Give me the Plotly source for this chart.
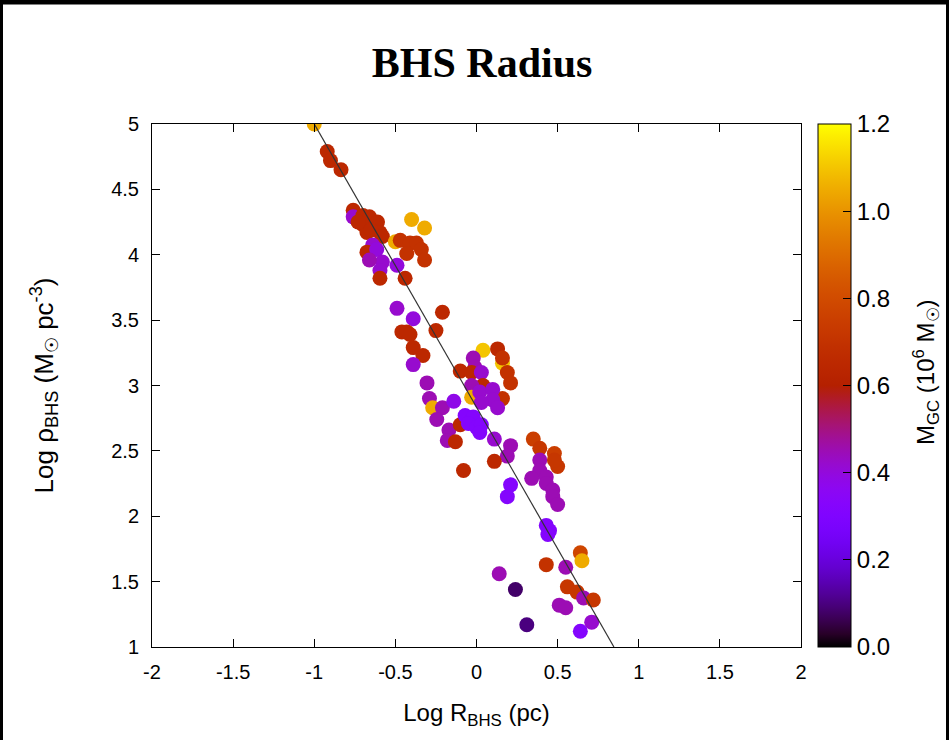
import numpy as np
import plotly.graph_objects as go

# ---- data ----
log_r = [-1.00, -0.92, -0.90, -0.835,
         -0.76, -0.76, -0.70, -0.66, -0.61, -0.70, -0.675, -0.595, -0.58, -0.64, -0.675, -0.615,
         -0.58, -0.66, -0.595, -0.595, -0.49, -0.44, -0.40, -0.32, -0.50, -0.47, -0.41, -0.37,
         -0.43, -0.34, -0.32, -0.73, -0.65,
         -0.49, -0.39, -0.21, -0.46, -0.43, -0.41, -0.25, -0.39, -0.33, -0.39, -0.305, -0.29,
         -0.27, -0.21, -0.245, -0.14, -0.17, -0.18, -0.13, -0.08, -0.10,
         0.04, 0.13, 0.16, 0.16, 0.19, 0.21, 0.16, -0.02, -0.01, -0.10, -0.03, 0.03, 0.04,
         -0.03, -0.03, 0.02, 0.10, 0.10, 0.03, 0.13, -0.07, -0.02, -0.05, 0.00, 0.03, 0.02,
         0.11, 0.21, 0.19, 0.11, 0.21, 0.19,
         0.35, 0.39, 0.48, 0.50, 0.48, 0.39, 0.39, 0.34, 0.43, 0.43, 0.47, 0.47, 0.50,
         0.43, 0.45, 0.44, 0.64, 0.65, 0.43, 0.55, 0.14, 0.24, 0.56, 0.62, 0.66, 0.72,
         0.51, 0.55, 0.71, 0.64, 0.31]
log_rho = [5.00, 4.79, 4.72, 4.65,
           4.34, 4.29, 4.30, 4.29, 4.25, 4.23, 4.17, 4.17, 4.14, 4.075, 4.02, 4.04,
           3.945, 3.96, 3.88, 3.82, 3.92, 3.82, 4.27, 4.205, 4.10, 4.11, 4.09, 4.09,
           4.01, 4.04, 3.96, 4.25, 4.19,
           3.59, 3.51, 3.56, 3.41, 3.41, 3.39, 3.42, 3.29, 3.23, 3.16, 3.02, 2.90,
           2.83, 2.83, 2.74, 2.88, 2.66, 2.58, 2.57, 2.35, 2.70,
           3.27, 3.28, 3.17, 3.21, 3.10, 3.02, 2.90, 3.21, 3.14, 3.11, 3.10, 3.10, 3.00,
           3.00, 2.91, 2.95, 2.97, 2.89, 2.87, 2.83, 2.77, 2.76, 2.71, 2.68, 2.70, 2.64,
           2.59, 2.54, 2.46, 2.42, 2.24, 2.15,
           2.59, 2.52, 2.48, 2.38, 2.43, 2.43, 2.35, 2.29, 2.30, 2.25, 2.20, 2.15, 2.09,
           1.93, 1.89, 1.86, 1.72, 1.66, 1.63, 1.61, 1.56, 1.44, 1.46, 1.42, 1.375, 1.36,
           1.32, 1.30, 1.19, 1.12, 1.17]
m_gc = [1.05, 0.65, 0.65, 0.65,
        0.65, 0.42, 0.65, 0.65, 0.65, 0.65, 0.65, 0.65, 0.65, 0.42, 0.65, 0.40,
        0.42, 0.45, 0.42, 0.65, 0.40, 0.65, 1.05, 1.05, 1.05, 0.70, 0.70, 0.70,
        0.70, 0.70, 0.70, 0.65, 0.65,
        0.42, 0.40, 0.65, 0.65, 0.65, 0.65, 0.65, 0.65, 0.65, 0.42, 0.45, 0.45,
        1.05, 0.45, 0.45, 0.38, 0.45, 0.45, 0.65, 0.65, 0.65,
        1.10, 0.65, 1.10, 0.70, 0.70, 0.70, 0.70, 0.45, 0.45, 0.65, 0.65, 0.42, 0.65,
        0.45, 1.05, 0.42, 0.42, 0.42, 0.42, 0.42, 0.32, 0.32, 0.32, 0.32, 0.32, 0.32,
        0.42, 0.45, 0.45, 0.65, 0.32, 0.32,
        0.75, 0.72, 0.75, 0.72, 0.72, 0.45, 0.45, 0.45, 0.45, 0.45, 0.45, 0.45, 0.45,
        0.32, 0.32, 0.32, 0.78, 1.05, 0.70, 0.45, 0.45, 0.08, 0.72, 0.72, 0.45, 0.72,
        0.45, 0.45, 0.42, 0.32, 0.10]

fit_x = [-1.0, 0.847]
fit_y = [5.0, 1.0]

x_ticks = [-2, -1.5, -1, -0.5, 0, 0.5, 1, 1.5, 2]
y_ticks = [1, 1.5, 2, 2.5, 3, 3.5, 4, 4.5, 5]
cb_ticks = [0.0, 0.2, 0.4, 0.6, 0.8, 1.0, 1.2]

# gnuplot default palette (rgbformulae 7,5,15)
def gp_color(t):
    r = np.sqrt(t)
    g = t ** 3
    b = max(np.sin(2 * np.pi * t), 0.0)
    return "rgb(%d,%d,%d)" % (round(r * 255), round(g * 255), round(b * 255))

stops = np.linspace(0, 1, 41)
colorscale = [[float(s), gp_color(float(s))] for s in stops]

font = "Liberation Sans, Arial, sans-serif"

fig = go.Figure()
fig.add_trace(go.Scatter(
    x=log_r, y=log_rho, mode="markers",
    marker=dict(size=15, color=m_gc, colorscale=colorscale, cmin=0, cmax=1.2,
                line=dict(width=0), opacity=1,
                colorbar=dict(
                    x=1.026, xanchor="left", xpad=0, y=0.5, yanchor="middle", ypad=0,
                    len=1.0, lenmode="fraction",
                    thickness=33, outlinecolor="black", outlinewidth=1,
                    tickvals=cb_ticks, ticktext=["%.1f" % v for v in cb_ticks],
                    tickprefix=" ",
                    ticks="inside", ticklen=8, tickcolor="black",
                    tickfont=dict(family=font, size=24, color="black"),
                )),
    showlegend=False, hoverinfo="x+y",
))
fig.add_trace(go.Scatter(x=fit_x, y=fit_y, mode="lines",
                         line=dict(color="#333333", width=1.2), showlegend=False))

axis_common = dict(showline=True, linecolor="black", linewidth=1, mirror="ticks",
                   ticks="inside", ticklen=8, tickcolor="black", showgrid=False, zeroline=False,
                   tickfont=dict(family=font, size=20, color="black"))
fig.update_xaxes(range=[-2, 2], tickvals=x_ticks, ticktext=[("%g" % v) for v in x_ticks],
                 ticklabelstandoff=7,
                 title=dict(text="Log R<sub>BHS</sub> (pc)", font=dict(family=font, size=24, color="black"),
                            standoff=22),
                 **axis_common)
fig.update_yaxes(range=[1, 5], tickvals=y_ticks, ticktext=[("%g" % v) for v in y_ticks],
                 ticklabelstandoff=8,
                 title=dict(text="Log ρ<sub>BHS</sub> (M<sub>☉</sub> pc<sup>-3</sup>)",
                            font=dict(family=font, size=26, color="black"), standoff=50),
                 **axis_common)

fig.update_layout(
    width=949, height=740,
    margin=dict(l=152, r=148, t=124, b=93, autoexpand=False),
    paper_bgcolor="white", plot_bgcolor="white",
    title=dict(text="<b>BHS Radius</b>", x=0.508, xanchor="center", y=0.916, yanchor="middle",
               font=dict(family="Liberation Serif, Times New Roman, serif", size=42, color="black")),
    annotations=[dict(text="M<sub>GC</sub> (10<sup>6</sup> M<sub>☉</sub>)", textangle=-90,
                      xref="paper", yref="paper", x=(926 - 152) / 649, y=(647 - 372) / 523,
                      xanchor="center", yanchor="middle", showarrow=False,
                      font=dict(family=font, size=24, color="black"))],
    shapes=[
        dict(type="line", xref="paper", yref="paper",
             x0=-152 / 649, x1=(949 - 152) / 649, y0=(647 - 2) / 523, y1=(647 - 2) / 523,
             line=dict(color="black", width=5), layer="above"),
        dict(type="line", xref="paper", yref="paper",
             x0=-150.5 / 649, x1=-150.5 / 649, y0=(647 - 760) / 523, y1=(647 - 0) / 523,
             line=dict(color="black", width=3), layer="above"),
        dict(type="line", xref="paper", yref="paper",
             x0=(947.5 - 152) / 649, x1=(947.5 - 152) / 649, y0=(647 - 760) / 523, y1=(647 - 0) / 523,
             line=dict(color="black", width=3), layer="above"),
    ],
)

fig.write_html("out.html", config={"displayModeBar": False},
               post_script="document.body.style.margin='0';")
